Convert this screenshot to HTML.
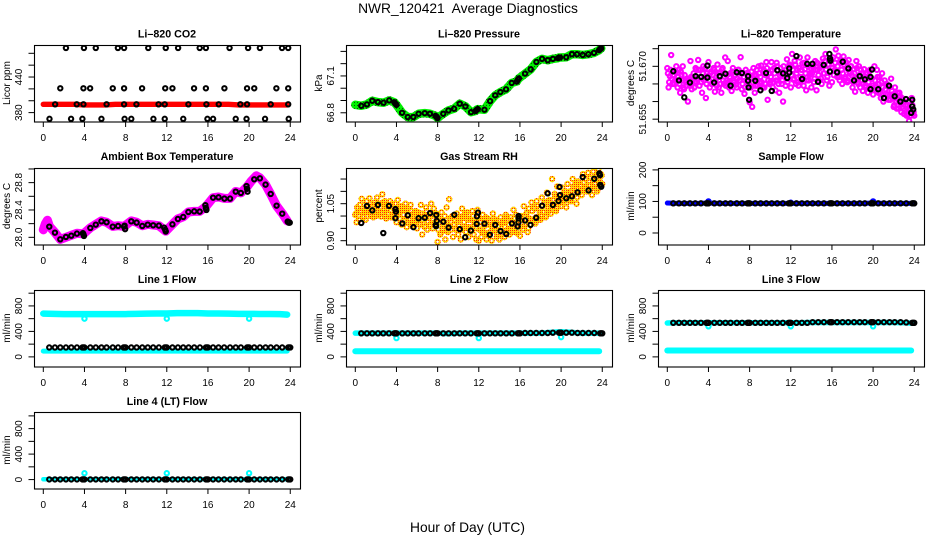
<!DOCTYPE html>
<html lang="en">
<head>
<meta charset="utf-8">
<title>NWR_120421 Average Diagnostics</title>
<style>
html,body{margin:0;padding:0;background:#fff;}
svg{display:block;font-family:"Liberation Sans",sans-serif;}
text{fill:#000;}
.panel-title{font-size:10.7px;font-weight:bold;text-anchor:middle;}
.y-title{font-size:10px;text-anchor:middle;}
.tick-label{font-size:10px;text-anchor:middle;}
.page-text{font-size:13.8px;text-anchor:middle;white-space:pre;}
</style>
</head>
<body>
<svg id="figure" width="936" height="540" viewBox="0 0 936 540" xmlns="http://www.w3.org/2000/svg">
  <defs>
    <pattern id="orange-dither" width="2" height="2" patternUnits="userSpaceOnUse">
      <rect width="2" height="2" fill="#ffd800"/>
      <rect width="1" height="1" fill="#ff2000"/>
    </pattern>
    <pattern id="green-dither" width="3" height="3" patternUnits="userSpaceOnUse">
      <rect width="3" height="3" fill="#00f000"/>
      <rect width="1" height="1" fill="#006000"/>
    </pattern>
  </defs>
  <rect width="936" height="540" fill="#fff"/>
  <text class="page-text" x="468" y="13">NWR_120421  Average Diagnostics</text>
  <text class="page-text" x="467.5" y="532">Hour of Day (UTC)</text>

  <g id="panel-co2">
    <text class="panel-title" x="167" y="37.5">Li–820 CO2</text>
    <text class="y-title" transform="translate(10,83) rotate(-90)">Licor ppm</text>
  </g>
  <g id="panel-pressure">
    <text class="panel-title" x="479" y="37.5">Li–820 Pressure</text>
    <text class="y-title" transform="translate(322,83) rotate(-90)">kPa</text>
  </g>
  <g id="panel-temp">
    <text class="panel-title" x="791" y="37.5">Li–820 Temperature</text>
    <text class="y-title" transform="translate(634,83) rotate(-90)">degrees C</text>
  </g>
  <g id="panel-ambient">
    <text class="panel-title" x="167" y="160">Ambient Box Temperature</text>
    <text class="y-title" transform="translate(10,206) rotate(-90)">degrees C</text>
  </g>
  <g id="panel-rh">
    <text class="panel-title" x="479" y="160">Gas Stream RH</text>
    <text class="y-title" transform="translate(322,206) rotate(-90)">percent</text>
  </g>
  <g id="panel-sample">
    <text class="panel-title" x="791" y="160">Sample Flow</text>
    <text class="y-title" transform="translate(634,206) rotate(-90)">ml/min</text>
  </g>
  <g id="panel-line1">
    <text class="panel-title" x="167" y="283">Line 1 Flow</text>
    <text class="y-title" transform="translate(10,328) rotate(-90)">ml/min</text>
  </g>
  <g id="panel-line2">
    <text class="panel-title" x="479" y="283">Line 2 Flow</text>
    <text class="y-title" transform="translate(322,328) rotate(-90)">ml/min</text>
  </g>
  <g id="panel-line3">
    <text class="panel-title" x="791" y="283">Line 3 Flow</text>
    <text class="y-title" transform="translate(634,328) rotate(-90)">ml/min</text>
  </g>
  <g id="panel-line4">
    <text class="panel-title" x="167" y="405">Line 4 (LT) Flow</text>
    <text class="y-title" transform="translate(10,450) rotate(-90)">ml/min</text>
  </g>
</svg>
<script>
/* ---------- shared axis data ---------- */
const xTickValues = [0, 4, 8, 12, 16, 20, 24];
const xTickLabels = ['0', '4', '8', '12', '16', '20', '24'];
const CLOUD_STEP_HOURS = 0.125;

/* ---------- Li-820 CO2 ---------- */
const co2Domain = [365, 494];
const co2TickValues = [380, 400, 420, 440, 460, 480];
const co2TickLabels = ['380', '', '', '440', '', ''];
const co2BandHours = [0, 1, 2, 3, 4, 5, 6, 7, 8, 9, 10, 11, 12, 13, 14, 15, 16, 17, 18, 19, 20, 21, 22, 23, 23.7];
const co2BandValues = [394, 394, 394, 394, 393, 393, 393, 394, 394, 394, 394, 394, 394, 394, 394, 394, 394, 394, 394, 393, 393, 393, 393, 393, 393];
const co2Hours = [2.2, 3.95, 5.1, 7.25, 7.85, 10.2, 11.9, 13.1, 15.2, 15.8, 18.1, 19.9, 21.05, 23.2, 23.8,
  1.65, 3.9, 4.55, 6.75, 7.85, 9.6, 11.85, 12.55, 14.65, 15.8, 17.6, 19.8, 20.5, 22.65, 23.8,
  1.15, 3.25, 3.9, 6.15, 7.85, 9.05, 11.2, 11.8, 14.1, 15.85, 17.05, 19.15, 19.8, 22.1, 23.8,
  0.6, 2.7, 3.8, 5.65, 7.9, 8.55, 10.7, 11.8, 13.6, 15.95, 16.5, 18.7, 19.75, 21.55, 23.85];
const co2Values = [489, 489, 489, 489, 489, 489, 489, 489, 489, 489, 489, 489, 489, 489, 489,
  421, 421, 421, 421, 421, 421, 421, 421, 421, 421, 421, 421, 421, 421, 421,
  394, 394, 394, 394, 394, 394, 394, 394, 394, 394, 394, 394, 394, 394, 394,
  369.5, 369.5, 369.5, 369.5, 369.5, 369.5, 369.5, 369.5, 369.5, 369.5, 369.5, 369.5, 369.5, 369.5, 369.5];

/* ---------- Li-820 Pressure ---------- */
const pressureDomain = [66.729, 67.352];
const pressureTickValues = [66.8, 66.9, 67.0, 67.1, 67.2, 67.3];
const pressureTickLabels = ['66.8', '', '', '67.1', '', ''];
const pressureHours = [0, 0.58, 1.13, 1.65, 2.2, 2.75, 3.3, 3.8, 3.9, 4, 4.55, 5.1, 5.65, 6.15, 6.75, 7.25, 7.8, 7.9, 8, 8.55, 9.05, 9.6, 10.15, 10.7, 11.25, 11.7, 11.8, 11.9, 12.55, 13.1, 13.6, 14.1, 14.65, 15.2, 15.7, 15.8, 15.9, 16.5, 17.05, 17.6, 18.15, 18.7, 19.2, 19.7, 19.8, 19.9, 20.5, 21.05, 21.55, 22.1, 22.65, 23.2, 23.7, 23.8, 23.9];
const pressureValues = [66.865, 66.857, 66.868, 66.898, 66.887, 66.882, 66.901, 66.885, 66.874, 66.865, 66.8, 66.765, 66.765, 66.792, 66.797, 66.792, 66.775, 66.765, 66.758, 66.792, 66.819, 66.833, 66.874, 66.852, 66.805, 66.815, 66.825, 66.83, 66.825, 66.895, 66.942, 66.969, 66.991, 67.043, 67.055, 67.07, 67.08, 67.119, 67.154, 67.214, 67.239, 67.228, 67.239, 67.245, 67.25, 67.25, 67.252, 67.277, 67.277, 67.271, 67.277, 67.288, 67.31, 67.32, 67.325];

/* ---------- Li-820 Temperature ---------- */
const tempDomain = [51.65434, 51.67605];
const tempTickValues = [51.655, 51.660, 51.665, 51.670, 51.675];
const tempTickLabels = ['51.655', '', '', '51.670', ''];
const tempCloudValues = [
  51.6695, 51.6640, 51.6672, 51.6732, 51.6650, 51.6685, 51.6660, 51.6700,
  51.6640, 51.6690, 51.6625, 51.6675, 51.6700, 51.6635, 51.6660, 51.6645,
  51.6600, 51.6650, 51.6715, 51.6635, 51.6670, 51.6640, 51.6695, 51.6655,
  51.6718, 51.6645, 51.6690, 51.6625, 51.6700, 51.6668, 51.6610, 51.6680,
  51.6712, 51.6640, 51.6685, 51.6650, 51.6695, 51.6628, 51.6670, 51.6705,
  51.6640, 51.6682, 51.6625, 51.6695, 51.6650, 51.6725, 51.6660, 51.6715,
  51.6640, 51.6680, 51.6630, 51.6695, 51.6655, 51.6675, 51.6640, 51.6690,
  51.6660, 51.6726, 51.6635, 51.6680, 51.6622, 51.6690, 51.6650, 51.6675,
  51.6598, 51.6640, 51.6585, 51.6695, 51.6625, 51.6675, 51.6645, 51.6700,
  51.6655, 51.6702, 51.6640, 51.6690, 51.6650, 51.6712, 51.6605, 51.6680,
  51.6655, 51.6712, 51.6640, 51.6695, 51.6632, 51.6710, 51.6660, 51.6625,
  51.6695, 51.6650, 51.6600, 51.6682, 51.6645, 51.6720, 51.6665, 51.6705,
  51.6640, 51.6735, 51.6662, 51.6715, 51.6650, 51.6690, 51.6645, 51.6725,
  51.6660, 51.6708, 51.6645, 51.6692, 51.6632, 51.6725, 51.6660, 51.6680,
  51.6640, 51.6700, 51.6655, 51.6715, 51.6632, 51.6690, 51.6660, 51.6705,
  51.6650, 51.6722, 51.6680, 51.6735, 51.6660, 51.6705, 51.6645, 51.6685,
  51.6655, 51.6725, 51.6690, 51.6748, 51.6670, 51.6730, 51.6660, 51.6710,
  51.6650, 51.6728, 51.6665, 51.6712, 51.6655, 51.6718, 51.6680, 51.6700,
  51.6640, 51.6692, 51.6628, 51.6715, 51.6655, 51.6700, 51.6640, 51.6680,
  51.6630, 51.6692, 51.6645, 51.6670, 51.6625, 51.6685, 51.6640, 51.6665,
  51.6620, 51.6700, 51.6645, 51.6690, 51.6625, 51.6670, 51.6610, 51.6680,
  51.6600, 51.6660, 51.6622, 51.6645, 51.6605, 51.6640, 51.6665, 51.6620,
  51.6585, 51.6640, 51.6600, 51.6625, 51.6580, 51.6615, 51.6570, 51.6600,
  51.6565, 51.6600, 51.6560, 51.6590, 51.6545, 51.6575, 51.6610, 51.6565,
  51.6560];
const tempCloudInnerValues = [
  51.6680, 51.6655, 51.6690, 51.6665, 51.6675, 51.6650, 51.6685, 51.6660,
  51.6670, 51.6650, 51.6685, 51.6660, 51.6640, 51.6675, 51.6655, 51.6665,
  51.6660, 51.6645, 51.6670, 51.6650, 51.6680, 51.6655, 51.6690, 51.6665,
  51.6690, 51.6670, 51.6655, 51.6680, 51.6660, 51.6695, 51.6650, 51.6672,
  51.6660, 51.6680, 51.6650, 51.6675, 51.6690, 51.6660, 51.6645, 51.6682,
  51.6670, 51.6650, 51.6690, 51.6660, 51.6680, 51.6645, 51.6675, 51.6655,
  51.6670, 51.6650, 51.6685, 51.6660, 51.6675, 51.6648, 51.6665, 51.6690,
  51.6660, 51.6680, 51.6650, 51.6670, 51.6640, 51.6660, 51.6682, 51.6650,
  51.6665, 51.6685, 51.6655, 51.6675, 51.6645, 51.6690, 51.6660, 51.6680,
  51.6670, 51.6655, 51.6685, 51.6640, 51.6675, 51.6695, 51.6660, 51.6650,
  51.6670, 51.6690, 51.6655, 51.6680, 51.6660, 51.6700, 51.6650, 51.6675,
  51.6680, 51.6660, 51.6700, 51.6670, 51.6690, 51.6655, 51.6685, 51.6700,
  51.6675, 51.6690, 51.6665, 51.6705, 51.6680, 51.6655, 51.6695, 51.6670,
  51.6690, 51.6670, 51.6710, 51.6680, 51.6660, 51.6700, 51.6675, 51.6695,
  51.6680, 51.6700, 51.6665, 51.6690, 51.6710, 51.6675, 51.6695, 51.6665,
  51.6700, 51.6680, 51.6715, 51.6690, 51.6670, 51.6705, 51.6685, 51.6720,
  51.6695, 51.6675, 51.6710, 51.6685, 51.6700, 51.6670, 51.6715, 51.6690,
  51.6680, 51.6705, 51.6670, 51.6695, 51.6660, 51.6685, 51.6700, 51.6675,
  51.6655, 51.6680, 51.6665, 51.6695, 51.6650, 51.6675, 51.6690, 51.6660,
  51.6650, 51.6670, 51.6640, 51.6680, 51.6655, 51.6690, 51.6665, 51.6645,
  51.6635, 51.6660, 51.6640, 51.6670, 51.6650, 51.6625, 51.6655, 51.6640,
  51.6610, 51.6635, 51.6650, 51.6620, 51.6640, 51.6605, 51.6630, 51.6615,
  51.6590, 51.6610, 51.6580, 51.6605, 51.6625, 51.6595, 51.6610, 51.6580,
  51.6575, 51.6590, 51.6565, 51.6600, 51.6580, 51.6560, 51.6590, 51.6570];
const tempHours = [0.58, 1.13, 1.65, 2.2, 2.75, 3.3, 3.9, 3.9, 4.55, 5.1, 5.65, 6.15, 6.75, 7.25, 7.85, 7.85, 7.9, 7.95, 8.55, 9.05, 9.6, 10.15, 10.7, 11.25, 11.65, 11.85, 11.85, 12.55, 13.1, 13.6, 14.1, 14.65, 15.2, 15.75, 15.8, 15.85, 15.8, 16.5, 17.05, 17.6, 18.15, 18.7, 19.2, 19.75, 19.75, 19.9, 20.5, 21.05, 21.55, 22.1, 22.65, 23.2, 23.8, 23.8, 23.9, 23.7];
const tempValues = [51.6686, 51.6660, 51.6612, 51.6654, 51.6672, 51.6670, 51.6702, 51.6668, 51.6654, 51.6672, 51.6679, 51.6645, 51.6683, 51.6681, 51.6672, 51.6659, 51.6640, 51.6605, 51.6659, 51.6632, 51.6681, 51.6630, 51.6689, 51.6680, 51.6667, 51.6694, 51.6682, 51.6729, 51.6664, 51.6707, 51.6707, 51.6656, 51.6704, 51.6735, 51.6722, 51.6716, 51.6685, 51.6683, 51.6713, 51.6694, 51.6660, 51.6672, 51.6663, 51.6670, 51.6635, 51.6691, 51.6635, 51.6610, 51.6645, 51.6615, 51.6600, 51.6607, 51.6605, 51.6586, 51.6578, 51.6568];

/* ---------- Ambient Box Temperature ---------- */
const ambientDomain = [27.895, 29.014];
const ambientTickValues = [28.0, 28.2, 28.4, 28.6, 28.8, 29.0];
const ambientTickLabels = ['28.0', '', '28.4', '', '28.8', ''];
const ambientBandHours = [0, 0.2, 0.4, 0.6, 1.13, 1.65, 2.2, 2.72, 3.27, 3.9, 4.57, 5.1, 5.65, 6.15, 6.75, 7.27, 7.85, 8.55, 9.07, 9.62, 10.15, 10.68, 11.23, 11.9, 12.55, 13.08, 13.6, 14.1, 14.67, 15.2, 15.8, 16.5, 17.03, 17.6, 18.15, 18.7, 19.2, 19.8, 20.2, 20.7, 21.05, 21.6, 22.1, 22.67, 23.22, 23.7];
const ambientBandValues = [28.11, 28.2, 28.25, 28.16, 28.07, 27.97, 28.0, 28.03, 28.06, 28.05, 28.14, 28.19, 28.24, 28.22, 28.16, 28.17, 28.16, 28.24, 28.22, 28.17, 28.19, 28.18, 28.17, 28.09, 28.19, 28.27, 28.3, 28.37, 28.38, 28.38, 28.45, 28.58, 28.59, 28.57, 28.57, 28.67, 28.65, 28.74, 28.82, 28.9, 28.87, 28.77, 28.63, 28.46, 28.35, 28.24];
const ambientHours = [0.58, 1.13, 1.65, 2.2, 2.72, 3.27, 3.85, 3.9, 3.95, 4.57, 5.1, 5.65, 6.15, 6.75, 7.27, 7.85, 7.9, 7.95, 8.55, 9.07, 9.62, 10.15, 10.68, 11.23, 11.75, 11.85, 11.9, 12.55, 13.08, 13.6, 14.1, 14.67, 15.2, 15.75, 15.8, 15.85, 16.5, 17.03, 17.6, 18.15, 18.7, 19.2, 19.75, 19.8, 19.85, 20.5, 21.05, 21.6, 22.1, 22.67, 23.22, 23.75, 23.85, 23.95];
const ambientValues = [28.156, 28.068, 27.971, 28.005, 28.024, 28.054, 28.06, 28.044, 28.02, 28.137, 28.185, 28.234, 28.22, 28.156, 28.166, 28.156, 28.17, 28.12, 28.234, 28.215, 28.166, 28.185, 28.176, 28.171, 28.14, 28.11, 28.085, 28.19, 28.268, 28.298, 28.371, 28.38, 28.376, 28.47, 28.43, 28.4, 28.58, 28.585, 28.566, 28.566, 28.668, 28.649, 28.75, 28.71, 28.668, 28.849, 28.863, 28.771, 28.634, 28.463, 28.346, 28.23, 28.215, 28.215];

/* ---------- Gas Stream RH ---------- */
const rhDomain = [0.8846, 1.1947];
const rhTickValues = [0.90, 0.95, 1.00, 1.05, 1.10, 1.15];
const rhTickLabels = ['0.90', '', '', '1.05', '', ''];
const rhCloudValues = [
  1.004, 0.975, 1.030, 0.985, 1.020, 1.070, 1.000, 1.045,
  0.985, 1.060, 1.015, 1.072, 1.000, 1.040, 0.995, 1.055,
  1.000, 1.075, 1.020, 1.050, 0.998, 1.088, 1.025, 1.060,
  0.990, 1.045, 1.010, 1.060, 0.995, 1.035, 1.000, 1.050,
  0.975, 1.065, 1.010, 1.040, 0.965, 1.025, 0.985, 1.050,
  0.955, 1.030, 0.985, 1.045, 0.960, 1.010, 0.975, 1.020,
  0.950, 1.015, 0.970, 1.045, 0.925, 1.000, 0.955, 1.035,
  0.945, 1.005, 0.965, 1.050, 0.950, 1.030, 0.975, 1.010,
  0.895, 0.990, 0.925, 1.015, 0.950, 0.975, 0.905, 1.035,
  0.935, 1.068, 0.960, 0.995, 0.915, 0.985, 0.945, 1.010,
  0.925, 0.985, 0.905, 1.030, 0.950, 1.000, 0.935, 1.015,
  0.915, 0.990, 0.945, 1.020, 0.925, 0.975, 0.905, 1.025,
  0.900, 0.960, 0.915, 1.005, 0.935, 0.985, 0.905, 0.990,
  0.925, 0.975, 0.900, 1.010, 0.945, 0.985, 0.915, 0.960,
  0.905, 0.995, 0.930, 0.975, 0.915, 1.005, 0.945, 0.985,
  0.925, 0.995, 0.935, 1.025, 0.950, 1.005, 0.930, 0.985,
  0.920, 1.000, 0.945, 1.040, 0.965, 1.010, 0.935, 1.030,
  0.965, 1.055, 0.985, 1.035, 0.970, 1.060, 0.995, 1.030,
  0.985, 1.075, 1.015, 1.055, 0.995, 1.095, 1.030, 1.065,
  1.010, 1.150, 1.040, 1.090, 1.020, 1.120, 1.050, 1.075,
  1.040, 1.115, 1.060, 1.090, 1.035, 1.130, 1.065, 1.100,
  1.060, 1.150, 1.090, 1.125, 1.050, 1.140, 1.095, 1.120,
  1.085, 1.170, 1.110, 1.150, 1.100, 1.175, 1.125, 1.155,
  1.085, 1.180, 1.130, 1.160, 1.100, 1.190, 1.140, 1.170,
  1.130];
const rhCloudInnerValues = [
  1.010, 1.035, 1.000, 1.045, 1.015, 1.030, 0.995, 1.025,
  1.015, 1.040, 1.025, 1.050, 1.005, 1.035, 1.020, 1.045,
  1.020, 1.050, 1.005, 1.035, 1.015, 1.055, 1.030, 1.000,
  1.030, 1.010, 1.040, 1.020, 1.050, 0.995, 1.025, 1.010,
  1.000, 1.030, 0.990, 1.020, 1.040, 1.005, 0.980, 1.025,
  0.975, 1.005, 0.990, 1.020, 0.970, 1.000, 0.985, 1.015,
  0.980, 1.000, 0.965, 1.010, 0.985, 0.995, 0.960, 1.020,
  0.975, 0.995, 0.960, 1.015, 0.985, 1.005, 0.970, 0.990,
  0.945, 0.975, 0.930, 0.985, 0.960, 1.000, 0.940, 0.970,
  0.960, 0.990, 0.945, 1.000, 0.965, 0.980, 0.950, 0.990,
  0.960, 0.995, 0.945, 1.000, 0.975, 1.010, 0.955, 0.985,
  0.955, 0.985, 0.940, 1.000, 0.965, 0.975, 0.950, 0.995,
  0.945, 0.975, 0.935, 0.985, 0.960, 0.995, 0.925, 0.965,
  0.935, 0.965, 0.950, 0.990, 0.940, 0.975, 0.925, 0.960,
  0.940, 0.970, 0.925, 0.985, 0.955, 0.995, 0.935, 0.965,
  0.945, 0.980, 0.950, 0.990, 0.935, 0.975, 0.960, 0.985,
  0.955, 0.985, 0.945, 1.000, 0.970, 1.015, 0.950, 0.990,
  0.985, 1.020, 0.975, 1.030, 0.995, 1.040, 0.985, 1.015,
  1.005, 1.040, 1.015, 1.050, 1.000, 1.060, 1.020, 1.045,
  1.035, 1.065, 1.045, 1.080, 1.030, 1.070, 1.050, 1.060,
  1.060, 1.090, 1.070, 1.100, 1.055, 1.095, 1.080, 1.065,
  1.080, 1.120, 1.095, 1.135, 1.075, 1.110, 1.100, 1.125,
  1.105, 1.135, 1.115, 1.150, 1.100, 1.140, 1.125, 1.110,
  1.120, 1.155, 1.130, 1.165, 1.110, 1.150, 1.135, 1.165];
const rhHours = [0.58, 1.13, 1.65, 2.2, 2.72, 3.27, 3.9, 3.95, 3.9, 4.57, 5.1, 5.65, 6.15, 6.75, 7.27, 7.87, 7.92, 7.82, 7.85, 8.55, 9.07, 9.62, 10.15, 10.68, 11.23, 11.82, 11.92, 11.8, 12.55, 13.08, 13.6, 14.12, 14.67, 15.22, 15.87, 15.87, 15.85, 15.78, 16.5, 17.03, 17.58, 18.15, 18.7, 19.2, 19.75, 19.9, 19.85, 20.5, 21.05, 21.6, 22.1, 22.67, 23.22, 23.78, 23.72, 23.8, 23.9];
const rhValues = [0.972, 1.041, 1.023, 1.045, 0.931, 1.041, 1.028, 1.018, 0.991, 0.970, 1.003, 0.955, 0.991, 0.993, 1.012, 1.004, 0.980, 0.964, 0.959, 0.977, 0.953, 1.005, 0.947, 0.914, 0.941, 0.999, 1.014, 0.968, 0.969, 0.924, 0.964, 0.939, 0.927, 0.970, 1.000, 0.991, 0.974, 0.958, 0.982, 0.964, 0.993, 1.042, 1.092, 1.045, 1.061, 1.085, 1.118, 1.072, 1.080, 1.096, 1.158, 1.104, 1.151, 1.166, 1.173, 1.126, 1.119];

/* ---------- flow panels ---------- */
const flowHours = [0.58, 1.13, 1.65, 2.2, 2.72, 3.27, 3.8, 3.9, 4, 4.57, 5.1, 5.65, 6.15, 6.75, 7.27, 7.8, 7.9, 8, 8.55, 9.07, 9.62, 10.15, 10.68, 11.23, 11.8, 11.9, 12, 12.55, 13.08, 13.6, 14.12, 14.67, 15.22, 15.8, 15.9, 16, 16.5, 17.03, 17.58, 18.15, 18.7, 19.2, 19.8, 19.9, 20, 20.5, 21.05, 21.6, 22.1, 22.67, 23.22, 23.8, 23.9, 24];
const flowBandHours = [0, 1, 2, 3, 4, 5, 6, 7, 8, 9, 10, 11, 12, 13, 14, 15, 16, 17, 18, 19, 20, 21, 22, 23, 23.7];
const blipHours = [4, 12, 20];

const sampleDomain = [-36.5, 206];
const sampleTickValues = [0, 50, 100, 150, 200];
const sampleTickLabels = ['0', '', '100', '', '200'];
const sampleBandValues = [95, 94, 94, 94, 95, 94, 94, 94, 94, 94, 94, 94, 94, 94, 94, 94, 94, 94, 94, 94, 95, 94, 94, 94, 94];
const sampleBlipValues = [100, 96, 100];
const sampleValues = [94, 94, 94, 94, 94, 94, 94, 94, 94, 94, 94, 94, 94, 94, 94, 94, 94, 94, 94, 94, 94, 94, 94, 94, 94, 94, 94, 94, 94, 94, 94, 94, 94, 94, 94, 94, 94, 94, 94, 94, 94, 94, 94, 94, 94, 94, 94, 94, 94, 94, 94, 94, 94, 94];

const lineDomain = [-151, 1050];
const line4Domain = [-140, 1061];
const lineTickValues = [0, 200, 400, 600, 800, 1000];
const lineTickLabels = ['0', '', '400', '', '800', ''];

const line1TopValues = [680, 675, 672, 672, 672, 672, 672, 672, 672, 675, 680, 682, 682, 686, 686, 686, 682, 682, 680, 676, 675, 674, 674, 672, 664];
const line1LowValues = [90, 90, 90, 90, 90, 90, 90, 90, 90, 90, 90, 90, 90, 90, 90, 90, 90, 90, 90, 90, 90, 90, 90, 90, 90];
const line1BlipValues = [600, 600, 600];
const line1Values = [148, 148, 148, 148, 148, 148, 148, 148, 148, 148, 148, 148, 148, 148, 148, 148, 148, 148, 148, 148, 148, 148, 148, 148, 148, 148, 148, 148, 148, 148, 148, 148, 148, 148, 148, 148, 148, 148, 148, 148, 148, 148, 148, 148, 148, 148, 148, 148, 148, 148, 148, 148, 148, 148];

const line2TopValues = [372, 372, 372, 372, 372, 372, 372, 372, 372, 365, 372, 372, 372, 372, 372, 372, 372, 372, 372, 385, 395, 385, 372, 372, 372];
const line2LowValues = [88, 88, 88, 88, 88, 88, 88, 88, 88, 88, 88, 88, 88, 88, 88, 88, 88, 88, 88, 88, 88, 88, 88, 88, 88];
const line2BlipValues = [295, 295, 310];
const line2Values = [370, 370, 370, 370, 370, 370, 370, 370, 370, 370, 370, 370, 370, 370, 370, 370, 370, 370, 370, 370, 370, 370, 370, 370, 370, 370, 370, 370, 370, 370, 370, 370, 370, 370, 370, 370, 375, 375, 375, 375, 375, 380, 380, 380, 380, 380, 380, 375, 375, 375, 375, 370, 370, 370];

const line3TopValues = [532, 535, 535, 535, 535, 535, 535, 535, 535, 535, 535, 535, 535, 535, 540, 540, 540, 540, 540, 540, 540, 540, 540, 535, 530];
const line3LowValues = [100, 100, 100, 100, 100, 100, 100, 100, 100, 100, 100, 100, 100, 100, 100, 100, 100, 100, 100, 100, 100, 100, 100, 100, 100];
const line3BlipValues = [480, 480, 480];
const line3Values = [535, 535, 535, 535, 535, 535, 535, 535, 535, 535, 535, 535, 535, 535, 535, 535, 535, 535, 535, 535, 535, 535, 535, 535, 535, 535, 535, 535, 535, 535, 545, 545, 545, 545, 545, 545, 545, 545, 545, 545, 545, 545, 545, 545, 545, 545, 545, 545, 545, 545, 540, 535, 535, 535];

const line4TopValues = [5, 5, 5, 5, 5, 5, 5, 5, 5, 5, 5, 5, 5, 5, 5, 5, 5, 5, 5, 5, 5, 5, 5, 5, 5];
const line4BlipValues = [100, 100, 100];
const line4Values = [3, 3, 3, 3, 3, 3, 3, 3, 3, 3, 3, 3, 3, 3, 3, 3, 3, 3, 3, 3, 3, 3, 3, 3, 3, 3, 3, 3, 3, 3, 3, 3, 3, 3, 3, 3, 3, 3, 3, 3, 3, 3, 3, 3, 3, 3, 3, 3, 3, 3, 3, 3, 3, 3];

/* ---------- rendering ---------- */
const SVG_NS = 'http://www.w3.org/2000/svg';
const GREEN = 'url(#green-dither)';
const ORANGE = 'url(#orange-dither)';

function make(tag, attrs, parent) {
  const node = document.createElementNS(SVG_NS, tag);
  for (const k in attrs) node.setAttribute(k, attrs[k]);
  parent.appendChild(node);
  return node;
}

function Panel(id, col, top, domain, tickValues, tickLabels) {
  this.g = document.getElementById(id);
  this.ox = 312 * col;
  this.left = 34 + this.ox;
  this.right = 300 + this.ox;
  this.top = top;
  this.bottom = top + 76.5;
  this.domain = domain;
  this.tickValues = tickValues;
  this.tickLabels = tickLabels;
  this.clipId = id + '-clip';
  const defs = make('clipPath', { id: this.clipId }, this.g);
  make('rect', { x: this.left, y: this.top, width: this.right - this.left, height: this.bottom - this.top }, defs);
  this.marks = make('g', { 'clip-path': 'url(#' + this.clipId + ')' }, this.g);
  
  
}
Panel.prototype.x = function (hour) { return this.ox + 43.3 + hour * 10.29; };
Panel.prototype.y = function (value) {
  const d = this.domain;
  return this.bottom - (value - d[0]) / (d[1] - d[0]) * (this.bottom - this.top);
};

function drawAxes(p) {
  const box = make('rect', { x: p.left + 0.5, y: p.top + 0.5, width: p.right - p.left, height: p.bottom - p.top, fill: 'none', stroke: '#000', 'stroke-width': 1.1 }, p.g);
  
  
  xTickValues.forEach(function (v, i) {
    const x = p.x(v);
    const tick = make('line', { x1: x, x2: x, y1: p.bottom, y2: p.bottom + 5.5, stroke: '#000', 'stroke-width': 1 }, p.g);
    
    
    const label = make('text', { class: 'tick-label', x: x, y: p.bottom + 19.5 }, p.g);
    
    
    label.textContent = xTickLabels[i];
  });
  p.tickValues.forEach(function (v, i) {
    const y = p.y(v);
    const tick = make('line', { x1: p.left - 5.5, x2: p.left, y1: y, y2: y, stroke: '#000', 'stroke-width': 1 }, p.g);
    
    
    if (p.tickLabels[i]) {
      const lx = p.ox + 22;
      const label = make('text', { class: 'tick-label', transform: 'translate(' + lx + ',' + y + ') rotate(-90)' }, p.g);
      
      
      label.textContent = p.tickLabels[i];
    }
  });
}

function drawPoints(p, hours, values, color, name) {
  hours.forEach(function (h, i) {
    const c = make('circle', { cx: p.x(h), cy: p.y(values[i]), r: 2.2, fill: 'none', stroke: color, 'stroke-width': 2 }, p.marks);
    
    
  });
}

function drawBand(p, hours, values, color, width, name) {
  const pts = hours.map(function (h, i) { return p.x(h) + ',' + p.y(values[i]); }).join(' ');
  const line = make('polyline', { points: pts, fill: 'none', stroke: color, 'stroke-width': width, 'stroke-linecap': 'round', 'stroke-linejoin': 'round' }, p.marks);
  
  
}

function drawCloud(p, values, startHour, color, name) {
  const hours = values.map(function (v, i) { return startHour + i * CLOUD_STEP_HOURS; });
  drawPoints(p, hours, values, color, name);
}

/* CO2 */
const pCo2 = new Panel('panel-co2', 0, 45, co2Domain, co2TickValues, co2TickLabels);
drawBand(pCo2, co2BandHours, co2BandValues, '#ff0000', 5.4, 'co2-minute-band');
drawPoints(pCo2, co2Hours, co2Values, '#000', 'co2-average-point');
drawAxes(pCo2);

/* Pressure */
const pPressure = new Panel('panel-pressure', 1, 45, pressureDomain, pressureTickValues, pressureTickLabels);
drawBand(pPressure, pressureHours, pressureValues, GREEN, 8.5, 'pressure-minute-band');
drawPoints(pPressure, pressureHours.slice(1), pressureValues.slice(1), '#000', 'pressure-average-point');
drawAxes(pPressure);

/* Temperature */
const pTemp = new Panel('panel-temp', 2, 45, tempDomain, tempTickValues, tempTickLabels);
drawCloud(pTemp, tempCloudValues, 0, '#ff00ff', 'temperature-minute-point');
drawCloud(pTemp, tempCloudInnerValues, 0.06, '#ff00ff', 'temperature-minute-point');
drawPoints(pTemp, tempHours, tempValues, '#000', 'temperature-average-point');
drawAxes(pTemp);

/* Ambient */
const pAmbient = new Panel('panel-ambient', 0, 168, ambientDomain, ambientTickValues, ambientTickLabels);
drawBand(pAmbient, ambientBandHours, ambientBandValues, '#ff00ff', 9, 'ambient-minute-band');
drawPoints(pAmbient, ambientHours, ambientValues, '#000', 'ambient-average-point');
drawAxes(pAmbient);

/* RH */
const pRh = new Panel('panel-rh', 1, 168, rhDomain, rhTickValues, rhTickLabels);
drawCloud(pRh, rhCloudValues, 0, ORANGE, 'rh-minute-point');
drawCloud(pRh, rhCloudInnerValues, 0.06, ORANGE, 'rh-minute-point');
drawPoints(pRh, rhHours, rhValues, '#000', 'rh-average-point');
drawAxes(pRh);

/* Sample flow */
const pSample = new Panel('panel-sample', 2, 168, sampleDomain, sampleTickValues, sampleTickLabels);
drawBand(pSample, flowBandHours, sampleBandValues, '#0000ff', 5, 'sample-flow-band');
drawPoints(pSample, blipHours, sampleBlipValues, '#0000ff', 'sample-flow-outlier');
drawPoints(pSample, flowHours, sampleValues, '#000', 'sample-flow-average-point');
drawAxes(pSample);

/* Line 1 */
const pLine1 = new Panel('panel-line1', 0, 290, lineDomain, lineTickValues, lineTickLabels);
drawBand(pLine1, flowBandHours, line1TopValues, '#00ffff', 6.5, 'line-1-flow-high-band');
drawBand(pLine1, flowBandHours, line1LowValues, '#00ffff', 5, 'line-1-flow-low-band');
drawPoints(pLine1, blipHours, line1BlipValues, '#00ffff', 'line-1-flow-outlier');
drawPoints(pLine1, flowHours, line1Values, '#000', 'line-1-flow-average-point');
drawAxes(pLine1);

/* Line 2 */
const pLine2 = new Panel('panel-line2', 1, 290, lineDomain, lineTickValues, lineTickLabels);
drawBand(pLine2, flowBandHours, line2TopValues, '#00ffff', 5.5, 'line-2-flow-high-band');
drawBand(pLine2, flowBandHours, line2LowValues, '#00ffff', 6, 'line-2-flow-low-band');
drawPoints(pLine2, blipHours, line2BlipValues, '#00ffff', 'line-2-flow-outlier');
drawPoints(pLine2, flowHours, line2Values, '#000', 'line-2-flow-average-point');
drawAxes(pLine2);

/* Line 3 */
const pLine3 = new Panel('panel-line3', 2, 290, lineDomain, lineTickValues, lineTickLabels);
drawBand(pLine3, flowBandHours, line3TopValues, '#00ffff', 5.5, 'line-3-flow-high-band');
drawBand(pLine3, flowBandHours, line3LowValues, '#00ffff', 6, 'line-3-flow-low-band');
drawPoints(pLine3, blipHours, line3BlipValues, '#00ffff', 'line-3-flow-outlier');
drawPoints(pLine3, flowHours, line3Values, '#000', 'line-3-flow-average-point');
drawAxes(pLine3);

/* Line 4 */
const pLine4 = new Panel('panel-line4', 0, 412, line4Domain, lineTickValues, lineTickLabels);
drawBand(pLine4, flowBandHours, line4TopValues, '#00ffff', 4.5, 'line-4-flow-band');
drawPoints(pLine4, blipHours, line4BlipValues, '#00ffff', 'line-4-flow-outlier');
drawPoints(pLine4, flowHours, line4Values, '#000', 'line-4-flow-average-point');
drawAxes(pLine4);
</script>
</body>
</html>
